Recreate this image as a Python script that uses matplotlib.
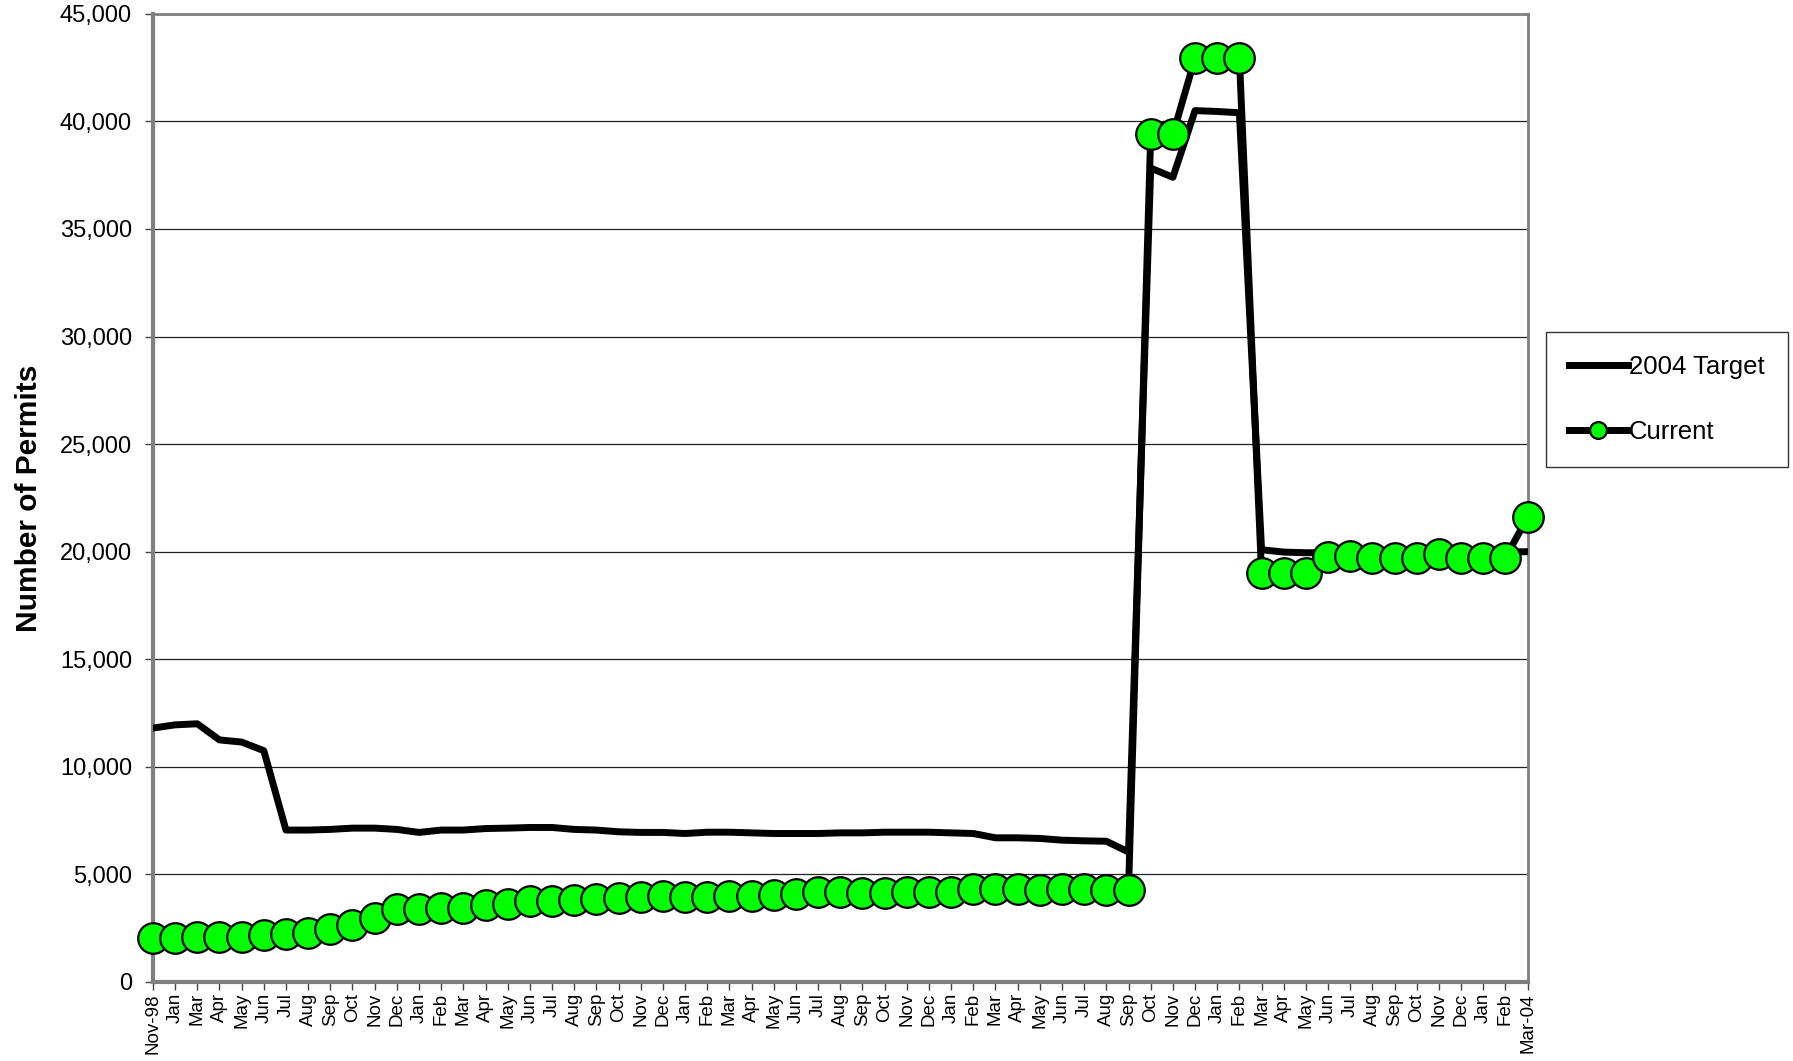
import matplotlib
matplotlib.use("Agg")
import matplotlib.pyplot as plt
import numpy as np

plt.rcParams['font.family'] = ['Liberation Sans', 'DejaVu Sans']

# month labels, Nov-98 .. Mar-04
months = ["Nov-98", "Jan", "Mar", "Apr", "May", "Jun", "Jul", "Aug", "Sep", "Oct", "Nov", "Dec"]
for yr in range(4):
    months += ["Jan", "Feb", "Mar", "Apr", "May", "Jun", "Jul", "Aug", "Sep", "Oct", "Nov", "Dec"]
months += ["Jan", "Feb", "Mar-04"]

target_2004 = [
    11800, 11950, 12000, 11250, 11150, 10750, 7060, 7060, 7090, 7150,
    7150, 7090, 6950, 7060, 7060, 7130, 7150, 7180, 7180, 7090,
    7060, 6980, 6950, 6950, 6900, 6960, 6960, 6930, 6900, 6900,
    6900, 6930, 6930, 6960, 6960, 6960, 6930, 6900, 6700, 6700,
    6670, 6590, 6560, 6540, 6040, 37830, 37400, 40500, 40460, 40400,
    20090, 19980, 19950, 19950, 19950, 19950, 19950, 19950, 19950, 19950,
    19950, 19980, 20000,
]

current = [
    2050, 2050, 2090, 2090, 2110, 2180, 2240, 2290, 2480, 2670,
    2950, 3380, 3410, 3460, 3430, 3570, 3610, 3740, 3770, 3820,
    3850, 3890, 3930, 3990, 3930, 3930, 4000, 4000, 4030, 4110,
    4160, 4160, 4130, 4130, 4200, 4200, 4160, 4320, 4320, 4320,
    4280, 4320, 4320, 4290, 4290, 39390, 39390, 42940, 42940, 42940,
    18990, 18990, 18990, 19760, 19820, 19720, 19720, 19720, 19870, 19690,
    19690, 19720, 21600,
]

x = np.arange(len(months))

fig = plt.figure(figsize=(17.93, 10.61), dpi=100)
ax = fig.add_axes([0.0853, 0.0745, 0.7667, 0.9125])

ax.plot(x, target_2004, color='black', linewidth=5, label='2004 Target', zorder=3)
ax.plot(x, current, color='black', linewidth=5, marker='o', markersize=22,
        markerfacecolor='#00ff00', markeredgecolor='black', markeredgewidth=1.6,
        label='Current', zorder=4, clip_on=False)

ax.set_xlim(0, len(months) - 1)
ax.set_ylim(0, 45000)
ax.set_yticks(np.arange(0, 45001, 5000))
ax.set_yticklabels([f"{v:,}" for v in range(0, 45001, 5000)], fontsize=17)
ax.set_xticks(x)
ax.set_xticklabels(months, rotation=90, fontsize=13.5)
ax.yaxis.grid(True, color='#222222', linewidth=0.9)
ax.set_axisbelow(True)

for s in ax.spines.values():
    s.set_color('#808080')
    s.set_linewidth(2)
ax.spines['left'].set_linewidth(3)
ax.spines['bottom'].set_linewidth(3)

ax.tick_params(axis='y', length=6, width=1, color='#444444', pad=9)
ax.tick_params(axis='x', length=6, width=1, color='#444444', pad=2)

ax.set_ylabel('Number of Permits', fontsize=21.5, fontweight='bold', labelpad=12)

leg = ax.legend(loc='upper left', bbox_to_anchor=(0.862, 0.687), bbox_transform=fig.transFigure,
                borderaxespad=0, fontsize=18.5, frameon=True, fancybox=False,
                edgecolor='black', handlelength=2.3, handletextpad=0.05,
                labelspacing=1.6, markerscale=0.55, borderpad=0.9)
leg.get_frame().set_linewidth(1)

fig.savefig('out.png', dpi=100)
